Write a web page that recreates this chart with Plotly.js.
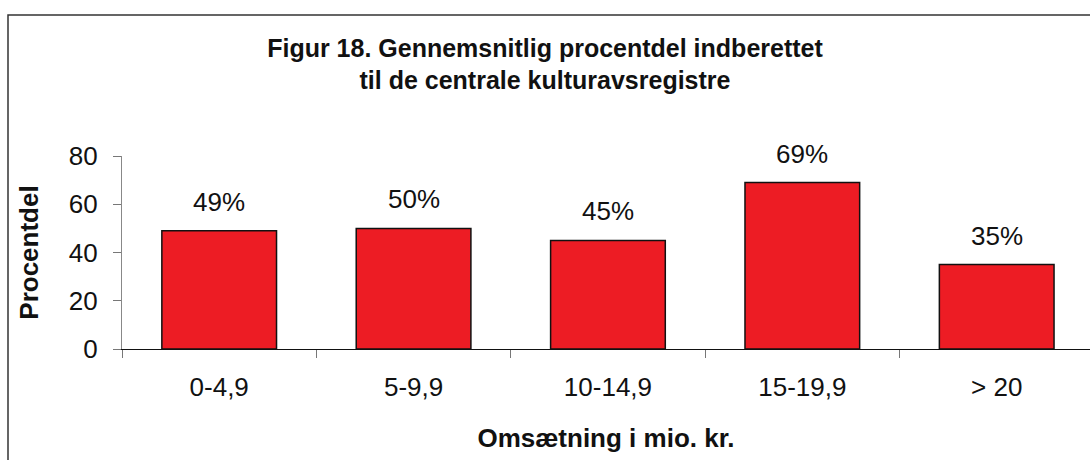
<!DOCTYPE html>
<html>
<head>
<meta charset="utf-8">
<script src="https://cdn.plot.ly/plotly-3.0.1.min.js"></script>
<style>
html,body{margin:0;padding:0;background:#fff;}
#chart{width:1090px;height:460px;}
</style>
</head>
<body>
<div id="chart"></div>
<script>
const categories = ["0-4,9", "5-9,9", "10-14,9", "15-19,9", "> 20"];
const values = [49, 50, 45, 69, 35];
const valueLabels = ["49%", "50%", "45%", "69%", "35%"];
const yTicks = [0, 20, 40, 60, 80];
const chartTitle = "Figur 18. Gennemsnitlig procentdel indberettet<br>til de centrale kulturavsregistre";
const xTitle = "Omsætning i mio. kr.";
const yTitle = "Procentdel";

const FONT = "Liberation Sans, Arial, Helvetica, sans-serif";

const trace = {
  type: "bar",
  x: categories,
  y: values,
  marker: {color: "#ED1C24", line: {color: "#111", width: 1.5}},
  hoverinfo: "none"
};

const annotations = categories.map((c, i) => ({
  x: c, y: values[i], xref: "x", yref: "y",
  text: valueLabels[i], showarrow: false,
  yanchor: "bottom", yshift: 12,
  font: {family: FONT, size: 26, color: "#111"}
}));

const layout = {
  width: 1090, height: 460,
  margin: {l: 122, r: 0, t: 156, b: 111},
  paper_bgcolor: "#fff", plot_bgcolor: "#fff",
  showlegend: false,
  bargap: 0.41,
  font: {family: FONT, size: 26, color: "#111"},
  title: {
    text: "<b>" + chartTitle + "</b>",
    font: {family: FONT, size: 25, color: "#111"},
    x: 0.5, xref: "container", xanchor: "center",
    y: 1 - 56.5/460, yref: "container", yanchor: "middle"
  },
  xaxis: {
    type: "category",
    range: [-0.5, 4.48],
    showgrid: false, zeroline: false,
    showline: true, linecolor: "#111", linewidth: 1.2,
    ticks: "outside", ticklen: 8, tickcolor: "#777", tickwidth: 1,
    tickson: "boundaries",
    tickfont: {family: FONT, size: 26, color: "#111"},
    ticklabelstandoff: 15,
    title: {text: "<b>" + xTitle + "</b>", font: {family: FONT, size: 26, color: "#111"}, standoff: 27}
  },
  yaxis: {
    range: [0, 80],
    tickvals: yTicks,
    showgrid: false, zeroline: false,
    showline: true, linecolor: "#888", linewidth: 1.2,
    ticks: "outside", ticklen: 8, tickcolor: "#777", tickwidth: 1,
    tickfont: {family: FONT, size: 26, color: "#111"},
    ticklabelstandoff: 10,
    title: {text: "<b>" + yTitle + "</b>", font: {family: FONT, size: 26, color: "#111"}, standoff: 22}
  },
  annotations: annotations,
  shapes: [
    {type: "rect", xref: "paper", yref: "paper",
     x0: (8 - 122)/968, x1: 1.2, y0: -1, y1: (349 - 15)/193,
     line: {color: "#333", width: 1.5}, fillcolor: "rgba(0,0,0,0)", layer: "below"}
  ]
};

Plotly.newPlot("chart", [trace], layout, {staticPlot: true, displayModeBar: false});
</script>
</body>
</html>
